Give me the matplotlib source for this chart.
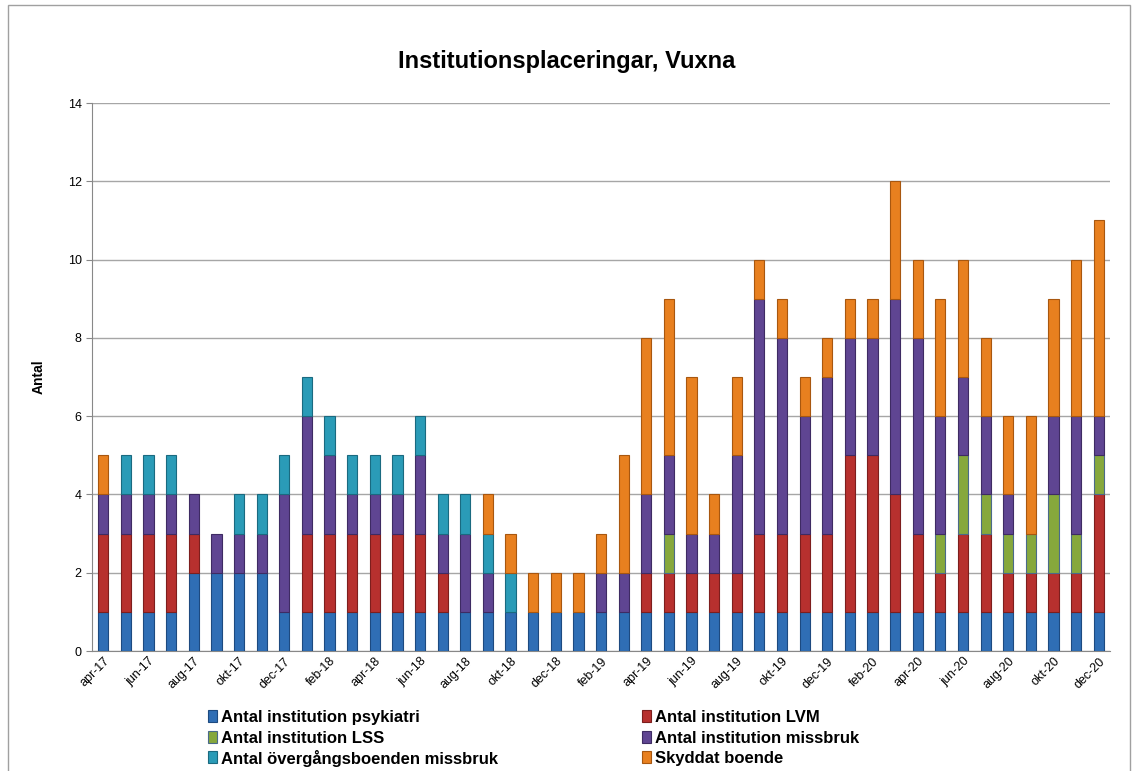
import numpy as np
import matplotlib.pyplot as plt
from matplotlib.patches import Rectangle

plt.rcParams['font.family'] = ['Liberation Sans', 'DejaVu Sans']

# Månader apr-17 .. dec-20
manader = ['jan', 'feb', 'mar', 'apr', 'maj', 'jun', 'jul', 'aug', 'sep', 'okt', 'nov', 'dec']
perioder = []
for ar in [17, 18, 19, 20]:
    for m in manader:
        if ar == 17 and manader.index(m) < 3:
            continue
        perioder.append(f'{m}-{ar}')

psykiatri = [1, 1, 1, 1, 2, 2, 2, 2, 1, 1, 1, 1, 1, 1, 1, 1, 1, 1, 1, 1, 1, 1, 1,
             1, 1, 1, 1, 1, 1, 1, 1, 1, 1, 1, 1, 1, 1, 1, 1, 1, 1, 1, 1, 1, 1]
lvm = [2, 2, 2, 2, 1, 0, 0, 0, 0, 2, 2, 2, 2, 2, 2, 1, 0, 0, 0, 0, 0, 0, 0,
       0, 1, 1, 1, 1, 1, 2, 2, 2, 2, 4, 4, 3, 2, 1, 2, 2, 1, 1, 1, 1, 3]
lss = [0, 0, 0, 0, 0, 0, 0, 0, 0, 0, 0, 0, 0, 0, 0, 0, 0, 0, 0, 0, 0, 0, 0,
       0, 0, 1, 0, 0, 0, 0, 0, 0, 0, 0, 0, 0, 0, 1, 2, 1, 1, 1, 2, 1, 1]
missbruk = [1, 1, 1, 1, 1, 1, 1, 1, 3, 3, 2, 1, 1, 1, 2, 1, 2, 1, 0, 0, 0, 0, 1,
            1, 2, 2, 1, 1, 3, 6, 5, 3, 4, 3, 3, 5, 5, 3, 2, 2, 1, 0, 2, 3, 1]
overgang = [0, 1, 1, 1, 0, 0, 1, 1, 1, 1, 1, 1, 1, 1, 1, 1, 1, 1, 1, 0, 0, 0, 0,
            0, 0, 0, 0, 0, 0, 0, 0, 0, 0, 0, 0, 0, 0, 0, 0, 0, 0, 0, 0, 0, 0]
skyddat = [1, 0, 0, 0, 0, 0, 0, 0, 0, 0, 0, 0, 0, 0, 0, 0, 0, 1, 1, 1, 1, 1, 1,
           3, 4, 4, 4, 1, 2, 1, 1, 1, 1, 1, 1, 3, 2, 3, 3, 2, 2, 3, 3, 4, 5]

serier = [
    ('Antal institution psykiatri', psykiatri, '#2f6eb5', '#1d4a80'),
    ('Antal institution LVM', lvm, '#b7302e', '#7d1e1d'),
    ('Antal institution LSS', lss, '#86a83c', '#4a6a8a'),
    ('Antal institution missbruk', missbruk, '#5f4592', '#3e2b63'),
    ('Antal övergångsboenden missbruk', overgang, '#2a9bb7', '#1a6a80'),
    ('Skyddat boende', skyddat, '#e8801f', '#a8570f'),
]

W, H = 1132, 771
fig = plt.figure(figsize=(W / 100, H / 100), dpi=100)
fig.patches.append(Rectangle((0.007, -0.01), 0.991, 1.003, transform=fig.transFigure,
                             fill=False, edgecolor='#a0a0a0', linewidth=1))
ax = fig.add_axes([0.0813, 0.1556, 0.8993, 0.7108])

x = np.arange(len(perioder))
botten = np.zeros(len(perioder))
for namn, v, farg, kant in serier:
    v = np.array(v)
    kanter = [kant if t > 0 else 'none' for t in v]
    ax.bar(x, v, bottom=botten, width=0.45, color=farg, edgecolor=kanter,
           linewidth=0.8, label=namn, zorder=3)
    botten += v

ax.set_xlim(-0.5, len(perioder) - 0.5)
ax.set_ylim(0, 14)
ax.set_yticks(range(0, 15, 2))
ax.yaxis.grid(True, color='#a6a6a6', linewidth=1, zorder=0)
ax.tick_params(axis='y', labelsize=9, length=4, color='#888888')
ax.tick_params(axis='x', length=0, labelsize=9, pad=3)
ax.set_xticks(x[::2])
ax.set_xticklabels(perioder[::2], rotation=45, ha='right', rotation_mode='anchor')
for s in ['top', 'right']:
    ax.spines[s].set_visible(False)
ax.spines['left'].set_color('#888888')
ax.spines['bottom'].set_color('#888888')

ax.set_ylabel('Antal', fontsize=10, fontweight='bold', labelpad=16)
fig.text(0.501, 0.92, 'Institutionsplaceringar, Vuxna', ha='center', va='center',
         fontsize=17, fontweight='bold')

# Legend i två kolumner, radvis ordning som i Excel
kol_x = [208, 642]
rad_y = [716, 737, 757]
for i, (namn, v, farg, kant) in enumerate(serier):
    px = kol_x[i % 2]
    py = rad_y[i // 2]
    fig.patches.append(Rectangle((px / W, 1 - (py + 6) / H), 9 / W, 12 / H,
                                 transform=fig.transFigure, facecolor=farg,
                                 edgecolor=kant, linewidth=0.8))
    fig.text((px + 13) / W, 1 - py / H, namn, ha='left', va='center_baseline',
             fontsize=12, fontweight='bold')

fig.savefig('out.png', dpi=100)
